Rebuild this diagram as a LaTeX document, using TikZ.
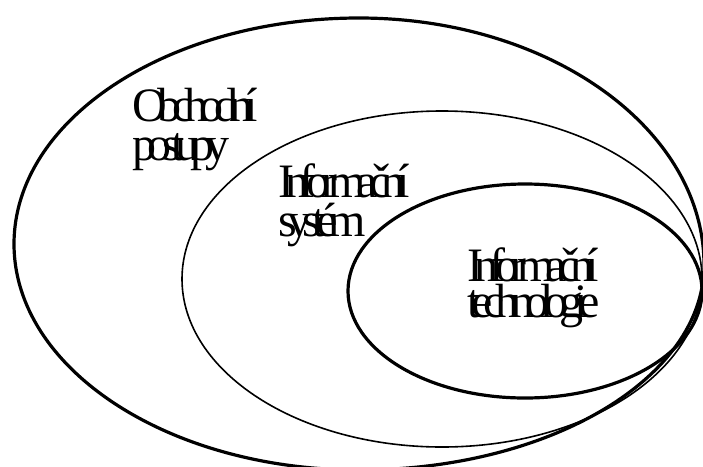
\documentclass[tikz,border=0pt]{standalone}
\usepackage{fontspec}
\newfontfamily\lblfont{Liberation Serif}[LetterSpace=-19]
\begin{document}
\begin{tikzpicture}[x=1pt,y=-1pt,
  lbl/.style={font=\lblfont\fontsize{48pt}{39pt}\selectfont, inner sep=0pt, anchor=base west, align=left},
  thickline/.style={line width=3.2pt},
  thinline/.style={line width=1.6pt}]
\useasboundingbox (0,0) rectangle (703,466);
\fill[white] (0,0) rectangle (703,466);
\clip (0,0) rectangle (703,466);
% outer ellipse (Obchodni postupy)
\draw[thickline] (359,18) .. controls (549.5,18) and (704,128.6) .. (704,265)
  .. controls (704,378) and (549.5,470) .. (359,470)
  .. controls (168.5,470) and (14,368.8) .. (14,244)
  .. controls (14,119.2) and (168.5,18) .. (359,18) -- cycle;
% middle ellipse (Informacni system)
\draw[thinline] (442,279) ellipse [x radius=260pt, y radius=168pt];
% inner ellipse (Informacni technologie)
\draw[thickline] (525,291) ellipse [x radius=177pt, y radius=107pt];
% labels (anchored at the baseline of the last line)
\node[lbl] (ob) at (132,160) {Obchodní\\postupy};
\node[lbl] (is) at (278,236) {Informační\\systém};
\node[lbl, font=\lblfont\fontsize{48pt}{36pt}\selectfont] (it) at (467,317) {Informační\\technologie};
\end{tikzpicture}
\end{document}
